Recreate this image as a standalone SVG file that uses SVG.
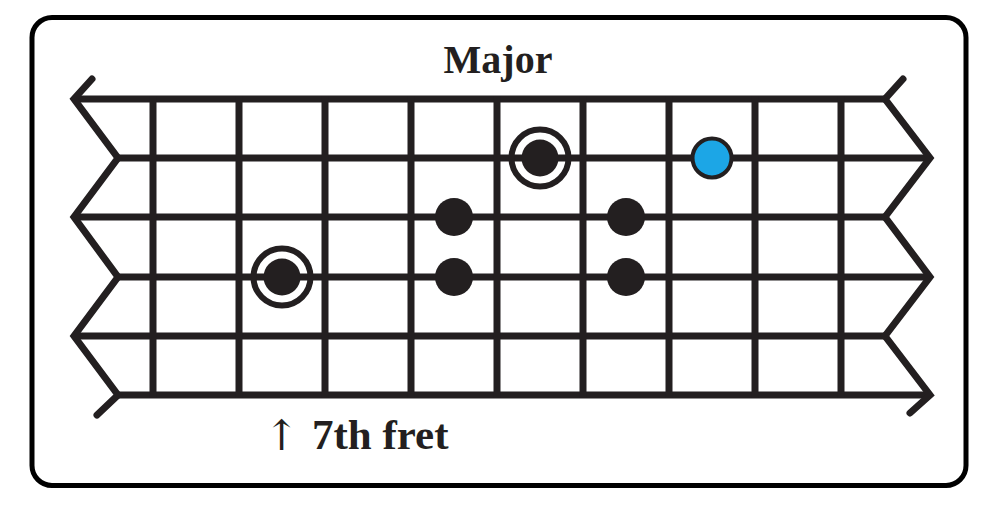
<svg xmlns="http://www.w3.org/2000/svg" width="1000" height="507" viewBox="0 0 1000 507">
<style>
.ln{stroke:#231f20;stroke-width:7;fill:none}
.zz{stroke:#231f20;stroke-width:7;fill:none;stroke-linejoin:miter;stroke-miterlimit:10;stroke-linecap:round}
.dot{fill:#231f20}
.ring{fill:none;stroke:#231f20;stroke-width:6}
.t{font-family:"Liberation Serif","Times New Roman",serif;font-weight:bold;fill:#231f20}
</style>
<rect x="0" y="0" width="1000" height="507" fill="#ffffff"/>
<rect id="frame" x="32" y="17.5" width="934" height="468" rx="20" ry="20" fill="#ffffff" stroke="#000000" stroke-width="5"/>
<g id="title"><text class="t" x="498" y="73" font-size="40" text-anchor="middle">Major</text></g>
<g id="connectors">
<g id="strings">
<line class="ln" x1="74" y1="99" x2="885" y2="99"/>
<line class="ln" x1="118" y1="158" x2="930" y2="158"/>
<line class="ln" x1="74" y1="217" x2="885" y2="217"/>
<line class="ln" x1="118" y1="277" x2="930" y2="277"/>
<line class="ln" x1="74" y1="336" x2="885" y2="336"/>
<line class="ln" x1="118" y1="395" x2="930" y2="395"/>
</g>
<g id="frets">
<line class="ln" x1="153" y1="96" x2="153" y2="398"/>
<line class="ln" x1="239" y1="96" x2="239" y2="398"/>
<line class="ln" x1="325" y1="96" x2="325" y2="398"/>
<line class="ln" x1="411" y1="96" x2="411" y2="398"/>
<line class="ln" x1="497" y1="96" x2="497" y2="398"/>
<line class="ln" x1="583" y1="96" x2="583" y2="398"/>
<line class="ln" x1="669" y1="96" x2="669" y2="398"/>
<line class="ln" x1="755" y1="96" x2="755" y2="398"/>
<line class="ln" x1="841" y1="96" x2="841" y2="398"/>
</g>
<polyline id="left-zigzag" class="zz" points="92,79 74,99 118,158 74,217 118,277 74,336 118,395 97,415"/>
<polyline id="right-zigzag" class="zz" points="903,79 885,99 930,158 885,217 930,277 885,336 930,395 910,413"/>
</g>
<g id="root-1"><circle class="ring" cx="540" cy="158" r="28.5"/><circle class="dot" cx="540" cy="158" r="18.5"/></g>
<g id="blue-note"><circle cx="712" cy="158" r="19.5" fill="#1ca6e6" stroke="#231f20" stroke-width="4"/></g>
<g id="note-3a"><circle class="dot" cx="454" cy="217" r="19"/></g>
<g id="note-3b"><circle class="dot" cx="626" cy="217" r="19"/></g>
<g id="root-2"><circle class="ring" cx="282" cy="277" r="28.5"/><circle class="dot" cx="282" cy="277" r="18.5"/></g>
<g id="note-4a"><circle class="dot" cx="454" cy="277" r="19"/></g>
<g id="note-4b"><circle class="dot" cx="626" cy="277" r="19"/></g>
<g id="fret-label"><text x="264" y="450" font-size="42" font-family="DejaVu Serif, serif" fill="#231f20">↑</text><text class="t" x="312" y="449" font-size="43">7th fret</text></g>
</svg>
